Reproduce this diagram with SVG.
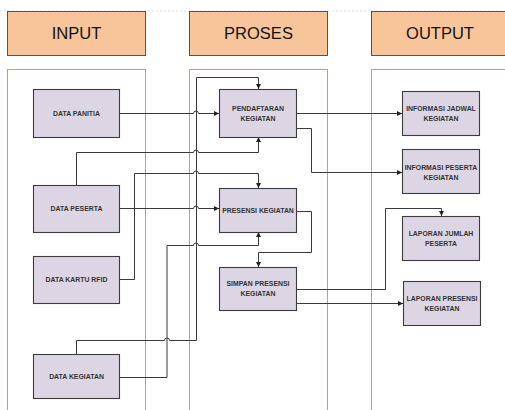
<svg xmlns="http://www.w3.org/2000/svg" width="505" height="410" viewBox="0 0 505 410">
<style>
.hdr{fill:#f8c59b;stroke:#5b5249;stroke-width:1}
.hdrt{font-family:"Liberation Sans",Arial,sans-serif;font-size:16.5px;fill:#111;text-anchor:middle}
.col{fill:#fff;stroke:#b8a66e;stroke-width:1}
.nd{fill:#dcd6e4;stroke:#3c3c3c;stroke-width:1.1}
.nt{font-family:"Liberation Sans",Arial,sans-serif;font-size:6.9px;font-weight:bold;fill:#333;text-anchor:middle}
.ln{fill:none;stroke:#3a3a3a;stroke-width:1}
.la{fill:none;stroke:#3a3a3a;stroke-width:1;marker-end:url(#ah)}
</style>
<defs>
<marker id="ah" markerUnits="userSpaceOnUse" markerWidth="6" markerHeight="6" refX="5" refY="2.5" orient="auto">
<path d="M0,0 L5,2.5 L0,5 z" fill="#222"/>
</marker>
</defs>
<rect width="505" height="410" fill="#fff"/>
<line x1="0" y1="11" x2="505" y2="11" stroke="#ccc" stroke-width="0.6" stroke-dasharray="2,2"/>
<g id="headers">
<g id="hdr-input"><rect class="hdr" x="7.5" y="11.5" width="138" height="44"/><text class="hdrt" x="76.5" y="39">INPUT</text></g>
<g id="hdr-proses"><rect class="hdr" x="189.5" y="11.5" width="138" height="44"/><text class="hdrt" x="258.5" y="39">PROSES</text></g>
<g id="hdr-output"><rect class="hdr" x="371.5" y="11.5" width="140" height="44"/><text class="hdrt" x="440" y="39">OUTPUT</text></g>
</g>
<g id="columns">
<rect class="col" x="7.5" y="69.5" width="138" height="360"/>
<rect class="col" x="189.5" y="69.5" width="138" height="360"/>
<rect class="col" x="371.5" y="69.5" width="140" height="360"/>
</g>
<g id="connectors">
<path class="la" d="M119,113.5 H193.5 a2.5,2.5 0 0 1 5,0 H219"/>
<path class="la" d="M76.5,185 V152.5 H193.5 a2.5,2.5 0 0 1 5,0 H258.5 V137"/>
<path class="la" d="M119,208.5 H193.5 a2.5,2.5 0 0 1 5,0 H219"/>
<path class="la" d="M119,279.5 H134.5 V173.5 H193.5 a2.5,2.5 0 0 1 5,0 H258.5 V188"/>
<path class="la" d="M76.5,354 V340.5 H164.5 a2.5,2.5 0 0 1 5,0 H196.5 V77.5 H258.5 V89"/>
<path class="la" d="M119,377.5 H167 V245.5 H193.5 a2.5,2.5 0 0 1 5,0 H258.5 V232"/>
<path class="la" d="M296,113.5 H402"/>
<path class="la" d="M296,128.5 H311.5 V172.5 H402"/>
<path class="la" d="M296,211.5 H311.5 V252.5 H258.5 V267"/>
<path class="la" d="M296,289.5 H385.5 V208.5 H441.5 V216"/>
<path class="la" d="M296,303.5 H403"/>
</g>
<g id="data-panitia"><rect class="nd" x="33.5" y="89.5" width="86" height="48"/><text class="nt" x="76.5" y="116">DATA PANITIA</text></g>
<g id="data-peserta"><rect class="nd" x="33.5" y="185.5" width="86" height="47"/><text class="nt" x="76.5" y="211">DATA PESERTA</text></g>
<g id="data-kartu-rfid"><rect class="nd" x="33.5" y="256.5" width="86" height="47"/><text class="nt" x="76.5" y="282">DATA KARTU RFID</text></g>
<g id="data-kegiatan"><rect class="nd" x="33.5" y="354.5" width="86" height="44"/><text class="nt" x="76.5" y="378.5">DATA KEGIATAN</text></g>
<g id="pendaftaran"><rect class="nd" x="219.5" y="89.5" width="77" height="48"/><text class="nt" x="258" y="111">PENDAFTARAN</text><text class="nt" x="258" y="121">KEGIATAN</text></g>
<g id="presensi"><rect class="nd" x="219.5" y="188.5" width="77" height="44"/><text class="nt" x="258" y="213">PRESENSI KEGIATAN</text></g>
<g id="simpan"><rect class="nd" x="219.5" y="267.5" width="77" height="43"/><text class="nt" x="258" y="285.5">SIMPAN PRESENSI</text><text class="nt" x="258" y="295.5">KEGIATAN</text></g>
<g id="info-jadwal"><rect class="nd" x="402.5" y="91.5" width="77" height="44"/><text class="nt" x="441" y="110.5">INFORMASI JADWAL</text><text class="nt" x="441" y="120.5">KEGIATAN</text></g>
<g id="info-peserta"><rect class="nd" x="402.5" y="149.5" width="77" height="44"/><text class="nt" x="441" y="169.5">INFORMASI PESERTA</text><text class="nt" x="441" y="179.5">KEGIATAN</text></g>
<g id="lap-jumlah"><rect class="nd" x="402.5" y="216.5" width="77" height="44"/><text class="nt" x="441" y="235.5">LAPORAN JUMLAH</text><text class="nt" x="441" y="245.5">PESERTA</text></g>
<g id="lap-presensi"><rect class="nd" x="403.5" y="281.5" width="77" height="44"/><text class="nt" x="442" y="300.5">LAPORAN PRESENSI</text><text class="nt" x="442" y="310.5">KEGIATAN</text></g>
</svg>
